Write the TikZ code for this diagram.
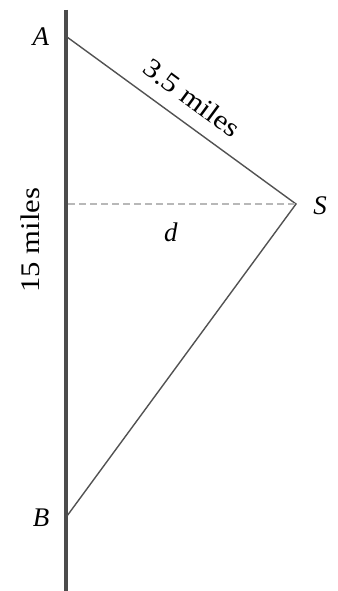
\documentclass[tikz,border=0pt]{standalone}
\usepackage{fontspec}
\setmainfont{Liberation Serif}
\begin{document}
\begin{tikzpicture}[x=1bp,y=-1bp,
  lbl/.style={font=\fontsize{27}{30}\selectfont, inner sep=0pt},
  road/.style={line width=3.5bp, draw=black!70},
  leg/.style={line width=1.4bp, draw=black!68},
  dist/.style={line width=2.4bp, draw=black!28, dash pattern=on 7bp off 4bp}]
\useasboundingbox (0,0) rectangle (337,591);
\coordinate (top) at (66,10);
\coordinate (bot) at (66,591);
\coordinate (A) at (67,37);
\coordinate (S) at (296,204);
\coordinate (B) at (67,516);
\coordinate (F) at (68,204);
\draw[road] (top) -- (bot);
\draw[leg] (A) -- (S) -- (B);
\draw[dist] (F) -- (S);
\node[lbl] (la) at (41,37) {\textit{A}};
\node[lbl] (lb) at (41,518) {\textit{B}};
\node[lbl] (ls) at (320,206) {\textit{S}};
\node[lbl] (ld) at (171,232) {\textit{d}};
\node[lbl, rotate=90] (l15) at (30,240) {\scalebox{1.14}[1]{15 miles}};
\node[lbl, rotate=-36.5] (l35) at (192,98) {\scalebox{1.14}[1]{3.5 miles}};
\end{tikzpicture}
\end{document}
